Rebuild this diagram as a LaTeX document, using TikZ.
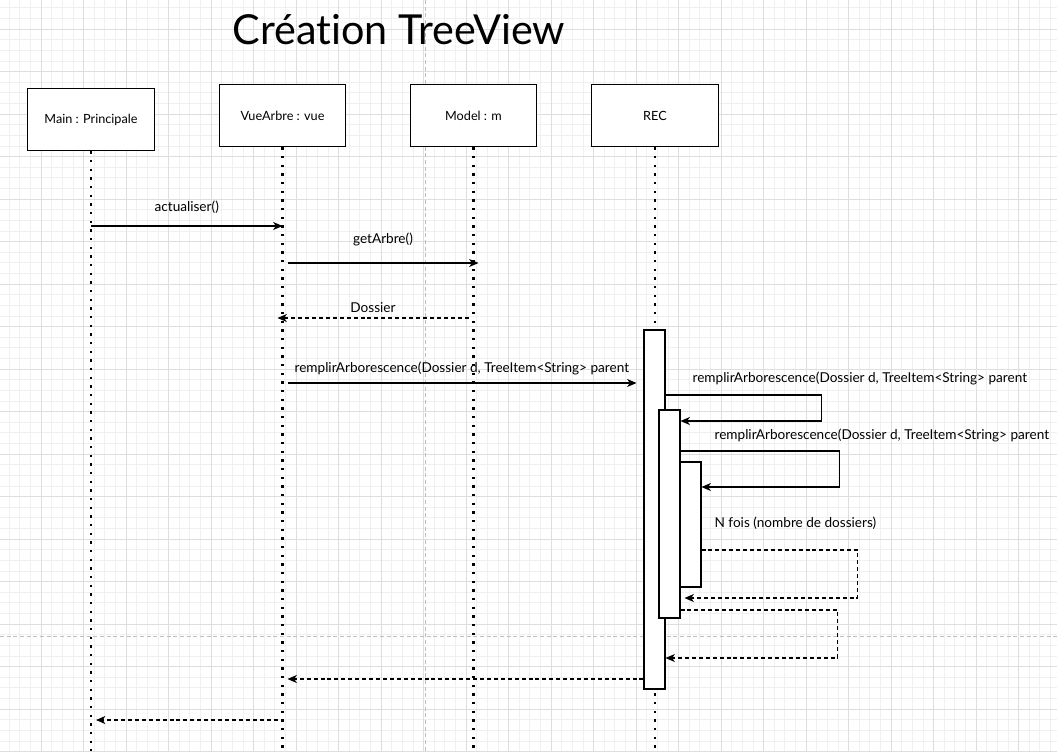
\documentclass[tikz,border=0pt]{standalone}
\usepackage{fontspec}
\setmainfont{Lato}
\newfontfamily\titlefont[Ligatures=NoCommon]{Lato}
\usetikzlibrary{positioning,calc,arrows.meta}

\begin{document}
\begin{tikzpicture}[
x=0.75pt, y=-0.75pt,
object/.style={rectangle, draw, line width=0.9pt, fill=white, minimum width=95pt, minimum height=47pt, font=\fontsize{9.5}{11}\selectfont},
activation/.style={rectangle, draw, line width=0.8pt, fill=white, minimum width=15.75pt},
lifeline/.style={line width=1.6pt, dash pattern=on 1.6pt off 4.9pt},
msg/.style={-{Stealth[length=7pt,width=6pt,inset=2pt]}, line width=0.8pt},
reply/.style={msg, dash pattern=on 3pt off 2.2pt},
label/.style={font=\fontsize{10.2}{12}\selectfont, inner sep=1pt},
gridminor/.style={draw=black!6, line width=0.5pt},
gridmajor/.style={draw=black!13, line width=0.6pt},
pagebreak/.style={draw=black!25, line width=0.6pt, dash pattern=on 3pt off 2pt}
]
	\useasboundingbox (0,0) rectangle (1057,751);
	\fill[white] (0,0) rectangle (1057,751);

	% background grid
	\foreach \i in {0,...,99}
		\draw[gridminor] ({-1.5+10.625*\i},0) -- ({-1.5+10.625*\i},751);
	\foreach \j in {0,...,72}
		\draw[gridminor] (0,{-13.5+10.625*\j}) -- (1057,{-13.5+10.625*\j});
	\foreach \i in {0,...,25}
		\draw[gridmajor] ({-1.5+42.5*\i},0) -- ({-1.5+42.5*\i},751);
	\foreach \j in {0,...,18}
		\draw[gridmajor] (0,{-13.5+42.5*\j}) -- (1057,{-13.5+42.5*\j});
	\draw[pagebreak] (425,0) -- (425,751);
	\draw[pagebreak] (0,636) -- (1057,636);

	\node[font=\titlefont\fontsize{31}{36}\selectfont] (title) at (399,30) {Création TreeView};

	\node[object] (main) at (91,119.5) {Main : Principale};
	\node[object] (vue) at (282.5,115.5) {VueArbre : vue};
	\node[object] (model) at (473.5,115.5) {Model : m};
	\node[object] (rec) at (655,115.5) {REC};

	% lifelines
	\draw[lifeline] (main.south) -- (main |- 0,751);
	\draw[lifeline] (vue.south) -- (vue |- 0,751);
	\draw[lifeline] (model.south) -- (model |- 0,751);
	\draw[lifeline] (rec.south) -- (rec |- 0,751);

	\node[activation, minimum height=269.25pt] (act1) at (654.5,509.5) {};
	\node[activation, minimum height=156pt] (act2) at (669.5,514) {};
	\node[activation, minimum height=93.75pt] (act3) at (690.5,524.5) {};

	\draw[msg] (main |- 0,226) -- (vue |- 0,226) node[label, midway, above=8pt] {actualiser()};
	\draw[msg] ($(vue |- 0,263)+(5,0)$) -- ($(model |- 0,263)+(5,0)$) node[label, midway, above=11pt] {getArbre()};
	\draw[reply] ($(model |- 0,318)-(5,0)$) -- ($(vue |- 0,318)-(5,0)$) node[label, midway, above=3pt] {Dossier};
	\draw[msg] ($(vue |- 0,383)+(5,0)$) -- ($(act1.west |- 0,383)-(7,0)$);
	\node[label, anchor=west] (call0) at (293,368) {remplirArborescence(Dossier d, TreeItem<String> parent};

	% appels recursifs
	\draw[msg] (act1.east |- 0,395) -- ++(156,0) |- (act2.east |- 0,421);
	\node[label, anchor=west] (call1) at (691,378) {remplirArborescence(Dossier d, TreeItem<String> parent};
	\draw[msg] (act2.east |- 0,451) -- ++(159,0) |- (act3.east |- 0,487);
	\node[label, anchor=west] (call2) at (713,435) {remplirArborescence(Dossier d, TreeItem<String> parent};
	\node[label, anchor=west] (loop) at (713,523) {N fois (nombre de dossiers)};

	\draw[reply] (act3.east |- 0,550) -- ++(156,0) |- ($(act2.east |- 0,598)+(4,0)$);
	\draw[reply] (act2.east |- 0,610) -- ++(157,0) |- (act1.east |- 0,658);
	\draw[reply] (act1.west |- 0,679) -- ($(vue |- 0,679)+(5,0)$);
	\draw[reply] ($(vue |- 0,720)-(5,0)$) -- ($(main |- 0,720)+(5,0)$);
\end{tikzpicture}
\end{document}
